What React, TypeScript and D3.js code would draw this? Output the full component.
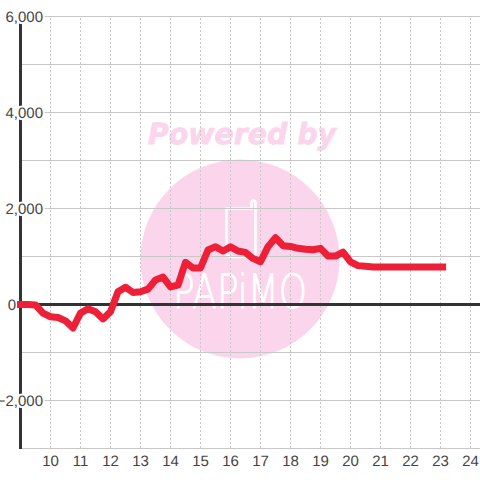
import * as d3 from "d3";

const width = 480;
const height = 480;

const xTicks = [10, 11, 12, 13, 14, 15, 16, 17, 18, 19, 20, 21, 22, 23, 24];
const yMajorTicks = [6000, 4000, 2000, 0, -2000];
const yMinorTicks = [5000, 3000, 1000, -1000, -3000];

// one reading every 15 minutes from 9:00, flat from 20:45 on
const hours = [
  9, 9.25, 9.5, 9.75, 10, 10.25, 10.5, 10.75, 11, 11.25, 11.5, 11.75, 12, 12.25, 12.5, 12.75,
  13, 13.25, 13.5, 13.75, 14, 14.25, 14.5, 14.75, 15, 15.25, 15.5, 15.75, 16, 16.25, 16.5, 16.75,
  17, 17.25, 17.5, 17.75, 18, 18.25, 18.5, 18.75, 19, 19.25, 19.5, 19.75, 20, 20.25, 20.5, 20.75,
  23.07,
];
const values = [
  0, 0, -10, -180, -255, -270, -340, -490, -180, -90, -150, -300, -150, 265, 360, 250,
  265, 320, 510, 570, 365, 405, 880, 760, 760, 1135, 1205, 1115, 1200, 1115, 1085, 960,
  890, 1205, 1390, 1225, 1210, 1170, 1150, 1140, 1170, 1010, 1010, 1090, 890, 810, 795, 780,
  780,
];

export default function App() {
  const x = d3.scaleLinear().domain([9, 24.33]).range([20.5, 480.4]);
  const y = d3.scaleLinear().domain([6000, -3000]).range([16.5, 448.5]);
  const line = d3
    .line<number>()
    .x((d) => x(d))
    .y((_, i) => y(values[i]))
    .curve(d3.curveLinear);

  return (
    <svg
      width={width}
      height={height}
      viewBox={`0 0 ${width} ${height}`}
      textRendering="geometricPrecision"
      style={{ position: "absolute", left: 0, top: 0, fontFamily: "'Liberation Sans', Arial, sans-serif" }}
    >
      <rect width={width} height={height} fill="#fff" />

      {/* watermark */}
      <g>
        <circle cx={240} cy={259} r={99.5} fill="#fbd5ec" />
        <text
          x={148}
          y={144}
          fontFamily="'DejaVu Sans'"
          fontWeight="bold"
          fontStyle="italic"
          fontSize={29}
          fill="#fbd5ec"
          stroke="#fbd5ec"
          strokeWidth={0.8}
          textLength={188}
          lengthAdjust="spacingAndGlyphs"
        >
          Powered by
        </text>
        <path
          d="M226.5 208.5 H251.5 V203 Q251.5 200.5 253.5 200.5 Q255.5 200.5 255.5 203 V252 Q255.5 257 250 257 H232 Q226.5 257 226.5 252 Z"
          fill="none"
          stroke="#fff"
          strokeWidth={2.5}
        />
        <text
          x={173}
          y={308}
          fontFamily="'DejaVu Sans'"
          fontWeight={200}
          fontSize={47}
          fill="#fff"
          stroke="#fff"
          strokeWidth={0.8}
          textLength={134}
          lengthAdjust="spacingAndGlyphs"
        >
          PAPiMO
        </text>
      </g>

      {/* grid */}
      <g stroke="#c8c8c8" strokeWidth={1} fill="none">
        {[...yMajorTicks, ...yMinorTicks].map((t) => (
          <line key={t} x1={20} x2={width} y1={y(t)} y2={y(t)} />
        ))}
        {xTicks.map((t) => (
          <line key={t} x1={x(t)} x2={x(t)} y1={18} y2={448} strokeDasharray="2 2" />
        ))}
      </g>

      {/* axes */}
      <line x1={20.5} x2={20.5} y1={16} y2={449} stroke="#333" strokeWidth={3} />
      <line x1={20} x2={width} y1={y(0)} y2={y(0)} stroke="#333" strokeWidth={3} />

      {/* tick labels */}
      <g fontSize={15} fill="#444" textAnchor="end">
        {yMajorTicks.map((t) => (
          <text key={t} x={t === 0 ? 16 : 43} y={y(t) + 5} stroke="#fff" strokeWidth={4} paintOrder="stroke">
            {d3.format(",")(t)}
          </text>
        ))}
      </g>
      <g fontSize={15} fill="#444" textAnchor="middle">
        {xTicks.map((t) => (
          <text key={t} x={x(t)} y={466}>
            {t}
          </text>
        ))}
      </g>

      {/* series */}
      <path
        d={line(hours) ?? ""}
        fill="none"
        stroke="#ee2038"
        strokeWidth={7}
        strokeLinejoin="round"
        strokeLinecap="square"
      />
    </svg>
  );
}
